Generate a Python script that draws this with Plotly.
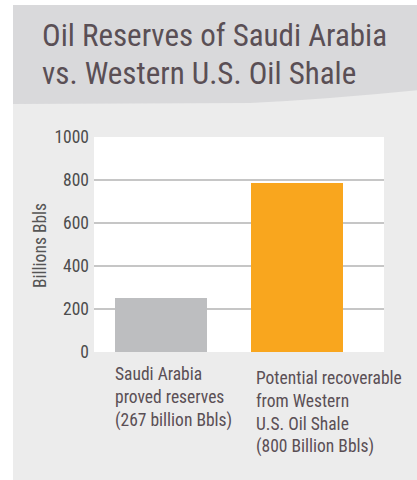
import plotly.graph_objects as go

# ---- data ----
categories = ["Saudi Arabia proved reserves", "Potential recoverable from Western U.S. Oil Shale"]
values = [250, 786]
bar_colors = ["#bdbec0", "#f9a61e"]
cat_labels = [
    "Saudi Arabia<br>proved reserves<br>(267 billion Bbls)",
    "Potential recoverable<br>from Western<br>U.S. Oil Shale<br>(800 Billion Bbls)",
]
y_ticks = [0, 200, 400, 600, 800, 1000]
title_lines = ["Oil Reserves of Saudi Arabia", "vs. Western U.S. Oil Shale"]
y_title = "Billions Bbls"

# ---- geometry (pixels) ----
W, H = 417, 480
L, R, T, B = 94, 384, 137, 352
FONT = "Liberation Sans Narrow, Arial Narrow, Roboto Condensed, sans-serif"
TXT = "#5a4f55"


def px(x):
    return (x - L) / (R - L)


def py(y):
    return (B - y) / (B - T)


fig = go.Figure()
fig.add_trace(go.Bar(
    x=[0, 1], y=values, width=0.676,
    marker=dict(color=bar_colors, line=dict(width=0)),
    hoverinfo="skip",
))

shapes = [
    # light panel
    dict(type="rect", xref="paper", yref="paper", x0=px(13), x1=px(W + 2), y0=py(5), y1=py(H + 2),
         fillcolor="#ececec", line=dict(width=0), layer="below"),
    # header band with curved bottom edge
    dict(type="path", xref="paper", yref="paper",
         path=(f"M {px(13)},{py(5)} L {px(W + 2)},{py(5)} L {px(W + 2)},{py(90)} "
               f"Q {px(330)},{py(99)} {px(250)},{py(103)} L {px(13)},{py(104)} Z"),
         fillcolor="#d9d9db", line=dict(width=0), layer="below"),
    # white plot area
    dict(type="rect", xref="paper", yref="paper", x0=0, x1=1, y0=0, y1=1,
         fillcolor="white", line=dict(width=0), layer="below"),
]

annotations = [
    dict(text=title_lines[0], xref="paper", yref="paper", x=px(40), y=py(15), xanchor="left", yanchor="top",
         showarrow=False, font=dict(family=FONT, size=31, color=TXT)),
    dict(text=title_lines[1], xref="paper", yref="paper", x=px(40), y=py(53), xanchor="left", yanchor="top",
         showarrow=False, font=dict(family=FONT, size=31, color=TXT)),
    dict(text=y_title, xref="paper", yref="paper", x=px(40), y=py(246), xanchor="center", yanchor="middle",
         textangle=-90, showarrow=False, font=dict(family=FONT, size=17.5, color="#555555")),
    dict(text=cat_labels[0], xref="paper", yref="paper", x=px(113), y=py(362), xanchor="left", yanchor="top",
         align="left", showarrow=False, font=dict(family=FONT, size=17.5, color=TXT)),
    dict(text=cat_labels[1], xref="paper", yref="paper", x=px(254), y=py(366), xanchor="left", yanchor="top",
         align="left", showarrow=False, font=dict(family=FONT, size=17.5, color=TXT)),
]

fig.update_layout(
    width=W, height=H,
    margin=dict(l=L, r=W - R, t=T, b=H - B, pad=0),
    paper_bgcolor="white", plot_bgcolor="white",
    showlegend=False,
    shapes=shapes, annotations=annotations,
    xaxis=dict(range=[-0.4926, 1.64], showticklabels=False, showgrid=False, zeroline=False,
               showline=False, ticks="", fixedrange=True),
    yaxis=dict(range=[0, 1000], tickvals=y_ticks, ticktext=[str(v) for v in y_ticks],
               showgrid=True, gridcolor="#c6c6c6", gridwidth=1.5, zeroline=False, showline=False,
               ticks="", ticklabelstandoff=4,
               tickfont=dict(family=FONT, size=17.5, color="#4d4d4d"), fixedrange=True),
    bargap=0,
)

fig.write_html("out.html", config=dict(displayModeBar=False),
               post_script="document.body.style.margin='0';document.body.style.overflow='hidden';")
